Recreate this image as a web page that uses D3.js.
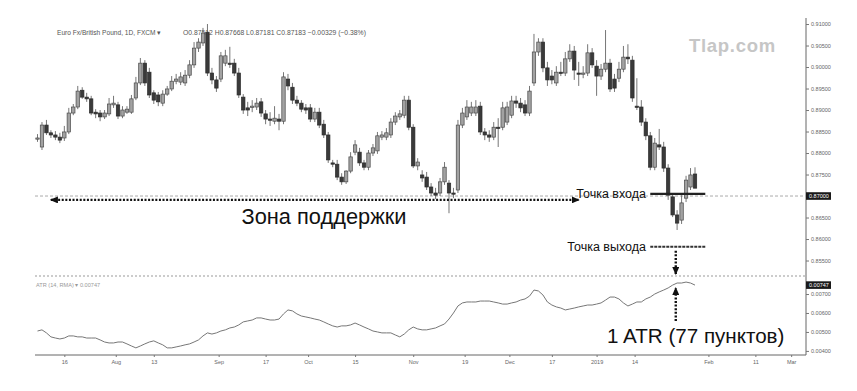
<!DOCTYPE html>
<html>
<head>
<meta charset="utf-8">
<title>EUR/GBP - support zone, entry/exit and ATR</title>
<script src="https://cdn.jsdelivr.net/npm/d3@7"></script>
<style>
body { margin: 0; background: #fff; }
svg { display: block; font-family: "Liberation Sans", Arial, sans-serif; }
.axis text { font-size: 5.5px; fill: #666; }
.axis line { stroke: #777; }
.axis path { display: none; }
</style>
</head>
<body>
<svg id="chart" width="857" height="391"></svg>
<script>
// daily candles, EUR/GBP, Jul 2018 - Jan 2019
var opens = [.8835,.8814,.8865,.8847,.8842,.8837,.8835,.8849,.8893,.8907,
.8946,.8930,.8926,.8895,.8893,.8884,.8891,.8912,.8912,.8886,
.8895,.8895,.8928,.8963,.9009,.8988,.8940,.8935,.8916,.8937,
.8949,.8967,.8965,.8963,.8981,.9005,.9044,.9056,.9081,.8986,
.8970,.8972,.9009,.9009,.9009,.8986,.8930,.8905,.8907,.8907,
.8919,.8891,.8879,.8874,.8879,.8874,.8972,.8953,.8923,.8916,
.8905,.8905,.8879,.8895,.8867,.8842,.8777,.8774,.8744,.8733,
.8758,.8802,.8802,.8777,.8767,.8800,.8805,.8837,.8837,.8842,
.8872,.8884,.8888,.8923,.8860,.8770,.8749,.8744,.8721,.8707,
.8707,.8733,.8730,.8707,.8714,.8865,.8884,.8893,.8893,.8909,
.8849,.8842,.8837,.8860,.8860,.8872,.8888,.8921,.8916,.8912,
.8893,.8963,.9035,.9058,.8998,.8979,.8963,.8988,.8986,.9019,
.9037,.8986,.8984,.8986,.9033,.9002,.8979,.8995,.9009,.8972,
.8974,.8995,.9023,.9016,.8909,.8907,.8872,.8840,.8767,.8819,
.8814,.8765,.8698,.8656,.8644,.8695,.8721,.87512];
var highs = [.8844,.8872,.8877,.8853,.8851,.8847,.8863,.8905,.8914,.8956,
.8953,.8940,.8933,.8902,.8900,.8900,.8928,.8933,.8919,.8909,
.8909,.8935,.8977,.9021,.9016,.8998,.8946,.8942,.8946,.8956,
.8979,.8984,.8988,.8993,.9016,.9058,.9067,.9091,.9100,.8998,
.8979,.9035,.9040,.9047,.9019,.8998,.8937,.8919,.8923,.8928,
.8928,.8900,.8895,.8909,.8891,.8988,.8984,.8963,.8933,.8923,
.8914,.8914,.8905,.8905,.8877,.8849,.8784,.8784,.8753,.8760,
.8802,.8830,.8812,.8784,.8807,.8821,.8849,.8851,.8858,.8881,
.8895,.8900,.8933,.8933,.8867,.8788,.8760,.8756,.8730,.8719,
.8742,.8779,.8737,.8719,.8877,.8905,.8923,.8919,.8923,.8919,
.8858,.8853,.8872,.8881,.8919,.8919,.8933,.8933,.8928,.8923,
.8956,.9077,.9067,.9067,.9012,.8993,.9002,.9012,.9035,.9053,
.9049,.9012,.9002,.9053,.9044,.9016,.9007,.9086,.9019,.8984,
.9012,.9049,.9053,.9026,.8974,.8923,.8881,.8849,.8835,.8856,
.8826,.8774,.8707,.8667,.8702,.8747,.8765,.87668];
var lows = [.8826,.8807,.8842,.8835,.8830,.8823,.8828,.8844,.8888,.8902,
.8926,.8919,.8888,.8881,.8874,.8879,.8886,.8905,.8879,.8881,
.8891,.8891,.8923,.8958,.8956,.8928,.8914,.8909,.8909,.8933,
.8944,.8960,.8958,.8956,.8974,.8998,.9035,.9049,.8979,.8960,
.8942,.8965,.9002,.8998,.8979,.8928,.8891,.8886,.8895,.8900,
.8884,.8867,.8863,.8867,.8853,.8867,.8946,.8914,.8909,.8895,
.8891,.8872,.8872,.8858,.8835,.8777,.8767,.8737,.8726,.8728,
.8753,.8795,.8770,.8760,.8760,.8793,.8798,.8830,.8830,.8835,
.8865,.8877,.8881,.8853,.8765,.8760,.8733,.8714,.8700,.8693,
.8700,.8726,.8660,.8695,.8707,.8858,.8877,.8886,.8886,.8842,
.8830,.8826,.8830,.8814,.8853,.8865,.8881,.8905,.8895,.8886,
.8886,.8956,.9026,.8988,.8956,.8960,.8956,.8979,.8979,.9012,
.8970,.8956,.8974,.8979,.8998,.8933,.8970,.8988,.8942,.8942,
.8965,.8988,.9007,.8919,.8900,.8863,.8830,.8760,.8760,.8807,
.8756,.8691,.8651,.8621,.8635,.8686,.8714,.87181];
var closes = [.8835,.8865,.8847,.8842,.8837,.8830,.8849,.8893,.8907,.8944,
.8930,.8926,.8893,.8891,.8884,.8893,.8914,.8916,.8886,.8900,
.8902,.8926,.8963,.9009,.8963,.8935,.8923,.8919,.8937,.8949,
.8967,.8972,.8977,.8981,.9005,.9044,.9058,.9079,.8986,.8970,
.8951,.9026,.9026,.9007,.8986,.8935,.8900,.8900,.8909,.8916,
.8893,.8879,.8877,.8881,.8874,.8977,.8956,.8923,.8916,.8902,
.8900,.8879,.8895,.8865,.8842,.8784,.8774,.8744,.8733,.8758,
.8791,.8819,.8777,.8767,.8800,.8812,.8840,.8842,.8847,.8872,
.8886,.8891,.8923,.8860,.8770,.8779,.8742,.8721,.8707,.8702,
.8733,.8767,.8707,.8705,.8865,.8893,.8907,.8907,.8907,.8849,
.8842,.8837,.8860,.8858,.8905,.8907,.8921,.8916,.8905,.8893,
.8944,.9035,.9058,.8998,.8970,.8970,.8988,.8986,.9019,.9037,
.8993,.8984,.8986,.9033,.9005,.8979,.8995,.9009,.8949,.8951,
.8995,.9023,.9019,.8928,.8907,.8872,.8840,.8767,.8823,.8814,
.8765,.8702,.8656,.8637,.8684,.8737,.8749,.87183];

// ATR(14) per candle
var atr = [.00505,.00511,.00495,.00474,.00468,.00463,.00468,.00479,.00479,.00474,
.00474,.00468,.00468,.00468,.00458,.00447,.00442,.00442,.00447,.00447,
.00437,.00426,.00416,.00426,.00437,.00447,.00453,.00442,.00432,.00416,
.00416,.00421,.00426,.00432,.00437,.00447,.00458,.00479,.00495,.00489,
.00495,.00505,.00511,.00521,.00526,.00537,.00553,.00558,.00563,.00574,
.00574,.00568,.00563,.00563,.00568,.00595,.00616,.00611,.00595,.00584,
.00579,.00574,.00568,.00563,.00553,.00542,.00532,.00526,.00532,.00532,
.00537,.00547,.00537,.00526,.00516,.00505,.00500,.00495,.00495,.00495,
.00484,.00474,.00489,.00511,.00526,.00516,.00511,.00511,.00516,.00521,
.00532,.00542,.00568,.00600,.00637,.00653,.00658,.00658,.00658,.00663,
.00663,.00663,.00658,.00653,.00647,.00647,.00653,.00658,.00668,.00674,
.00689,.00721,.00716,.00695,.00658,.00642,.00632,.00626,.00616,.00621,
.00626,.00632,.00637,.00642,.00642,.00647,.00653,.00668,.00684,.00684,
.00674,.00653,.00637,.00647,.00658,.00658,.00674,.00684,.00700,.00711,
.00721,.00732,.00747,.00758,.00758,.00763,.00758,.00747];

// axis labels
var dateLabels = ["16","Aug","13","Sep","17","Oct","15","Nov","19","Dec","17","2019","14","Feb","11","Mar"];
var dateIdx = [6,17.5,26,40.5,51,60.5,71,84,95.5,105.5,115,125,133.5,150,160.5,168.5];
var priceTicks = [0.855,0.86,0.865,0.875,0.88,0.885,0.89,0.895,0.90,0.905,0.91];
var atrTicks = [0.004,0.005,0.006,0.007];

// levels drawn on the chart
var supportLevel = 0.8691, lineLevel = 0.8700, entryLevel = 0.8705, exitLevel = 0.8582;

var svg = d3.select("#chart");

var x = d3.scaleLinear().domain([0, 147]).range([37.5, 695]);
var y = d3.scaleLinear().domain([0.8514, 0.9121]).range([276, 15]);
var yA = d3.scaleLinear().domain([0.00389, 0.00795]).range([353, 276]);

var axisX = 806, bottomY = 355;

// watermark
svg.append("text").attr("x", 689).attr("y", 52)
	.style("font-size", "18.5px").style("font-weight", "bold")
	.style("letter-spacing", "0.7px").attr("fill", "#c6c6c6")
	.text("Tlap.com");

// header
svg.append("text").attr("x", 57).attr("y", 35).style("font-size", "6.6px").attr("fill", "#555")
	.text("Euro Fx/British Pound, 1D, FXCM \u25BE");
svg.append("text").attr("x", 183).attr("y", 35).style("font-size", "6.8px").attr("fill", "#555")
	.text("O0.87512  H0.87668  L0.87181  C0.87183  \u22120.00329 (\u22120.38%)");
svg.append("text").attr("x", 36).attr("y", 287).style("font-size", "5.6px").attr("fill", "#999")
	.text("ATR (14, RMA) \u25BE   " + d3.format(".5f")(atr[atr.length - 1]));

// frame lines
svg.append("line").attr("x1", axisX).attr("x2", axisX).attr("y1", 18).attr("y2", bottomY)
	.attr("stroke", "#666").attr("stroke-width", 1);
svg.append("line").attr("x1", 35).attr("x2", axisX).attr("y1", bottomY).attr("y2", bottomY)
	.attr("stroke", "#666").attr("stroke-width", 1);
svg.append("line").attr("x1", 35).attr("x2", axisX).attr("y1", 276).attr("y2", 276)
	.attr("stroke", "#999").attr("stroke-width", 1).attr("stroke-dasharray", "2,2");
svg.append("line").attr("x1", 35).attr("x2", axisX).attr("y1", y(lineLevel)).attr("y2", y(lineLevel))
	.attr("stroke", "#aaa").attr("stroke-width", 1).attr("stroke-dasharray", "3,2");

// axes
svg.append("g").attr("class", "axis")
	.attr("transform", "translate(" + axisX + ",0)")
	.call(d3.axisRight(y).tickValues(priceTicks).tickSize(3).tickPadding(2).tickFormat(d3.format(".5f")));
svg.append("g").attr("class", "axis")
	.attr("transform", "translate(" + axisX + ",0)")
	.call(d3.axisRight(yA).tickValues(atrTicks).tickSize(3).tickPadding(2).tickFormat(d3.format(".5f")));
svg.append("g").attr("class", "axis")
	.attr("transform", "translate(0," + bottomY + ")")
	.call(d3.axisBottom(x).tickValues(dateIdx).tickSize(2).tickPadding(3)
		.tickFormat(function(d, i) { return dateLabels[i]; }));

// highlighted axis labels
function axisTag(yy, txt) {
	svg.append("rect").attr("x", axisX).attr("y", yy - 3.8).attr("width", 25).attr("height", 7.6).attr("fill", "#1a1a1a");
	svg.append("text").attr("x", axisX + 3).attr("y", yy + 2).style("font-size", "5.5px")
		.attr("fill", "#fff").text(txt);
}
axisTag(y(lineLevel), d3.format(".5f")(lineLevel));
axisTag(yA(atr[atr.length - 1]), d3.format(".5f")(atr[atr.length - 1]));

// candles
var candles = d3.range(closes.length).map(function(i) {
	return {i: i, o: opens[i], h: highs[i], l: lows[i], c: closes[i]};
});
var g = svg.append("g");
g.selectAll("line.wick").data(candles).enter().append("line")
	.attr("class", "wick")
	.attr("x1", function(d) { return x(d.i); }).attr("x2", function(d) { return x(d.i); })
	.attr("y1", function(d) { return y(d.h); }).attr("y2", function(d) { return y(d.l); })
	.attr("stroke", "#666").attr("stroke-width", 0.9);
g.selectAll("rect.body").data(candles).enter().append("rect")
	.attr("class", "body")
	.attr("x", function(d) { return x(d.i) - 1.7; })
	.attr("width", 3.4)
	.attr("y", function(d) { return y(Math.max(d.o, d.c)); })
	.attr("height", function(d) { return Math.max(1.2, Math.abs(y(d.o) - y(d.c))); })
	.attr("fill", function(d) { return d.c >= d.o ? "#a2a2a2" : "#3a3a3a"; })
	.attr("stroke", function(d) { return d.c >= d.o ? "#4a4a4a" : "#2a2a2a"; })
	.attr("stroke-width", 0.7);

// ATR line
svg.append("path").datum(atr)
	.attr("fill", "none").attr("stroke", "#777").attr("stroke-width", 1)
	.attr("d", d3.line().x(function(d, i) { return x(i); }).y(function(d) { return yA(d); }));

// annotations
var defs = svg.append("defs");
defs.append("marker").attr("id", "head").attr("viewBox", "0 0 8 7")
	.attr("refX", 7).attr("refY", 3.5).attr("markerWidth", 8).attr("markerHeight", 7)
	.attr("markerUnits", "userSpaceOnUse").attr("orient", "auto-start-reverse")
	.append("path").attr("d", "M0,0L8,3.5L0,7Z").attr("fill", "#111");

function dotted(x1, y1, x2, y2, both) {
	var l = svg.append("line").attr("x1", x1).attr("y1", y1).attr("x2", x2).attr("y2", y2)
		.attr("stroke", "#111").attr("stroke-width", 2.4).attr("stroke-dasharray", "2,1.6")
		.attr("marker-end", "url(#head)");
	if (both) l.attr("marker-start", "url(#head)");
}
dotted(x(3), y(supportLevel), x(121), y(supportLevel), true);

svg.append("text").attr("x", 324).attr("y", 224).attr("text-anchor", "middle")
	.style("font-size", "21.8px").attr("fill", "#111").text("Зона поддержки");

svg.append("line").attr("x1", x(137)).attr("x2", x(149.3)).attr("y1", y(entryLevel)).attr("y2", y(entryLevel))
	.attr("stroke", "#222").attr("stroke-width", 2.2);
svg.append("text").attr("x", 646).attr("y", y(entryLevel) + 4).attr("text-anchor", "end")
	.style("font-size", "12.5px").attr("fill", "#111").text("Точка входа");

svg.append("line").attr("x1", x(137)).attr("x2", x(149.3)).attr("y1", y(exitLevel)).attr("y2", y(exitLevel))
	.attr("stroke", "#333").attr("stroke-width", 2.2).attr("stroke-dasharray", "3,1");
svg.append("text").attr("x", 646).attr("y", y(exitLevel) + 4).attr("text-anchor", "end")
	.style("font-size", "12.5px").attr("fill", "#111").text("Точка выхода");

dotted(x(142.7), y(exitLevel) + 4, x(142.7), 274, false);
dotted(x(142.7), 321, x(142.7), yA(atr[143]) + 5, false);

svg.append("text").attr("x", 607).attr("y", 343)
	.style("font-size", "20.6px").attr("fill", "#111").text("1 ATR (77 пунктов)");
</script>
</body>
</html>
